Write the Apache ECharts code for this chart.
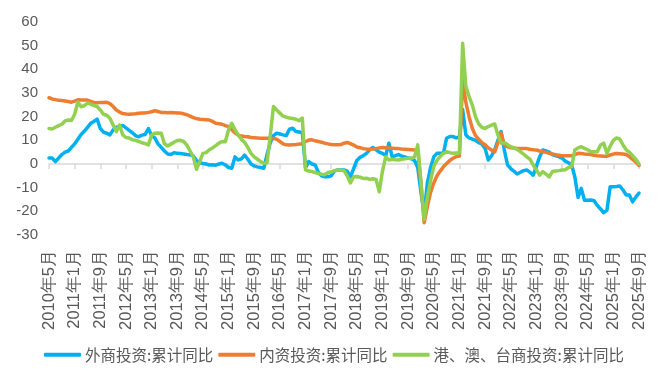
<!DOCTYPE html>
<html>
<head>
<meta charset="utf-8">
<script src="https://cdn.jsdelivr.net/npm/echarts@6/dist/echarts.min.js"></script>
<style>
html,body{margin:0;padding:0;background:#fff;}
#chart{width:671px;height:372px;}
</style>
</head>
<body>
<div id="chart"></div>
<script>
// Monthly categories 2010年5月 .. 2025年9月
const startYear = 2010, startMonth = 5, monthCount = 185;
const categories = [];
for (let k = 0; k < monthCount; k++) {
  const m = startMonth - 1 + k;
  categories.push((startYear + Math.floor(m / 12)) + '年' + (m % 12 + 1) + '月');
}

const seriesNames = ['外商投资:累计同比', '内资投资:累计同比', '港、澳、台商投资:累计同比'];
const yTicks = { min: -30, max: 60, step: 10 };

// 外商投资:累计同比
const foreign = [
  2.5,2.5,1,2.5,4,5,5.5,7,8.5,10.5,12.5,13.8,15.5,17.2,18,19,
  15,13.5,13,12.3,14.4,15.5,15.8,16.3,15.3,14.2,13.2,12,11.5,12.2,12.5,15,
  12,11,8.5,7,5.5,4.2,4,4.8,4.5,4.4,4.2,4,3.9,3.4,1.5,0.5,
  0.2,0,-0.4,-0.3,-0.5,0,0.3,-0.4,-1.5,-1.8,3,1.7,2.2,3.8,2,0,
  -0.8,-1.2,-1.5,-1.8,4,9,12,13,12.7,12.3,12,14.7,15.1,13.7,13.5,13.3,
  -1.5,1,0,-0.4,-3.5,-5,-5.4,-5.4,-5,-3,-2.5,-2.5,-2.5,-3,-5.4,-2,
  1.5,2.8,3.5,4.5,6,7,6,5,4.5,3.5,8.8,3.1,3.5,4,3.3,3,
  2.5,2.2,1.5,-1.5,-12,-21,-8,-1.5,3,4.5,4.5,4.5,10.9,11.6,11.6,11,
  11.5,23,12.3,11,10.5,10,9,8.5,6.6,1.7,3.5,6,10,13.7,5.9,-0.4,
  -2,-3,-4.2,-3.5,-2.8,-2.5,-3.5,-4.7,-1,3,5.9,5.5,5,4,3.5,3.1,
  2.5,1.2,0.5,-0.4,-5.5,-14.1,-10.3,-15.3,-15.3,-15.2,-15.5,-17.5,-19,-20.6,-19.5,-9.6,
  -9.6,-9.5,-9.3,-11,-13.1,-13.1,-16,-14,-12.3
];

// 内资投资:累计同比
const domestic = [
  28,27.5,27.2,26.9,26.8,26.6,26.4,26.1,26.6,27.1,27,27,27,26.5,26,25.9,
  26,26,26.1,25.5,24.3,22.8,22,21.3,21.1,21,21.1,21.2,21.4,21.5,21.6,21.8,
  22.1,22.5,22.2,21.8,21.8,21.7,21.8,21.7,21.6,21.5,21.2,20.8,20.2,19.6,19.2,18.9,
  18.8,18.7,18.6,18,17.2,17,16.8,16.2,15.8,14.5,13.2,12.2,11.8,11.6,11.5,11.2,
  11.1,11,10.9,10.9,10.9,10.9,10.8,10.5,9.5,8.5,8.1,8,8.1,8.2,8.4,8.5,
  9.5,10.1,10.2,9.8,9.5,9.2,8.8,8.5,8.2,8.1,8.1,8.2,8.8,9.1,8.6,8,
  7.2,6.9,6.5,6.3,6.2,6.3,6.5,6.8,7,6.9,6.8,6.7,6.6,6.5,6.3,6.2,
  6.1,6,5.9,5.9,-8,-24.8,-18,-12,-8,-5,-3,-1.2,0.2,1.5,2.4,3.1,
  3.4,35.5,26,20,15.1,12,10.5,9,8.1,6.8,5.9,5.1,9,13,8.1,7.3,
  6.9,6.8,6.6,6.6,6.6,6.5,6.2,6,5.9,5.5,5.2,4.9,4.5,4.2,3.9,3.7,
  3.5,3.5,3.5,3.5,4,4.5,4.4,4.2,4.1,4,3.7,3.5,3.4,3.3,3.3,3.8,
  4.2,4.4,4.3,4.2,4,3.1,2,0.8,-0.6
];

// 港、澳、台商投资:累计同比
const hkmt = [
  15,14.8,15.5,16.2,16.8,18.2,18.6,18.4,21,26.2,24.2,24.6,25.8,25.3,24.7,24.3,
  22.8,21,20.6,19.3,16.5,13.7,16.5,12.3,11.2,11,10.2,10,9.5,9,8.6,8.1,
  12.2,13,13.1,13,8.6,7.6,8.4,9.2,9.9,10,9.5,8,5.5,3,-2.2,1,
  4.5,4.8,6,6.8,7.8,8.8,9.5,9.4,14.5,17.2,14.5,12.3,10.5,9.2,7,4.5,
  3,2,1,0.3,0.5,12,24.3,22.8,21.5,20.2,19.8,19.4,19.2,18.9,18.3,19.4,
  -2.5,-3,-3.2,-3.6,-4,-4.3,-4.5,-3.6,-3.4,-2.8,-2.5,-2.6,-2.8,-5,-8,-5.4,
  -5.3,-5.6,-6.1,-6,-6.5,-6.2,-6.5,-11.7,-3,3,1.7,2,1.8,1.7,2,2.2,
  2.4,2.4,3,8.1,-8,-23.5,-14,-7,-1,1.5,3.2,4.5,5.2,4.8,4.5,4.6,
  4.7,51,32.8,28.5,25,20,17,15.5,15,15.8,16.4,16.9,12.3,8.8,9,8.2,
  7.3,6.8,6.2,5.2,4.2,3,2,-0.4,-2.5,-4.7,-3.2,-4.3,-5.4,-3.2,-3,-2.8,
  -2.5,-2.4,-1.5,-1.1,5.9,6.8,7.3,6.6,6,5.2,5.2,5.2,8,8.8,4.5,7.5,
  10,11,10.5,8.1,6,5,3.5,2,0
];

const colors = ['#00B0F0', '#ED7D31', '#92D050'];
const textColor = '#595959';

const chart = echarts.init(document.getElementById('chart'), null, { renderer: 'canvas' });

function lineSeries(name, data, color) {
  return {
    name: name, type: 'line', data: data, xAxisIndex: 0,
    symbol: 'none', smooth: false,
    lineStyle: { color: color, width: 3.5, cap: 'round', join: 'round' },
    itemStyle: { color: color }
  };
}

chart.setOption({
  animation: false,
  backgroundColor: '#ffffff',
  grid: { left: 49, right: 32, top: 22, bottom: 137, containLabel: false },
  legend: {
    left: 39, top: 342,
    icon: 'roundRect', itemWidth: 37, itemHeight: 4, itemGap: 5,
    textStyle: { color: textColor, fontSize: 15.5, fontFamily: 'Noto Sans CJK SC', padding: [0, 0, 0, -1] },
    data: seriesNames
  },
  xAxis: [
    {
      type: 'category', data: categories, boundaryGap: false,
      axisLine: { onZero: true, lineStyle: { color: '#D9D9D9', width: 1.5 } },
      axisTick: { show: true, interval: 7, length: 5, lineStyle: { color: '#D9D9D9', width: 1.5 } },
      axisLabel: { show: false },
      splitLine: { show: false }
    },
    {
      type: 'category', data: categories, boundaryGap: false, position: 'bottom',
      axisLine: { show: false, onZero: false },
      axisTick: { show: false },
      axisLabel: { show: true, interval: 7, rotate: 90, margin: 15, color: textColor, fontSize: 16.5, fontFamily: 'Liberation Sans' },
      splitLine: { show: false }
    }
  ],
  yAxis: {
    type: 'value', min: yTicks.min, max: yTicks.max, interval: yTicks.step,
    axisLine: { show: false }, axisTick: { show: false }, splitLine: { show: false },
    axisLabel: { color: textColor, fontSize: 15, margin: 11, fontFamily: 'Liberation Sans' }
  },
  series: [
    lineSeries(seriesNames[0], foreign, colors[0]),
    lineSeries(seriesNames[1], domestic, colors[1]),
    lineSeries(seriesNames[2], hkmt, colors[2])
  ]
});
</script>
</body>
</html>
